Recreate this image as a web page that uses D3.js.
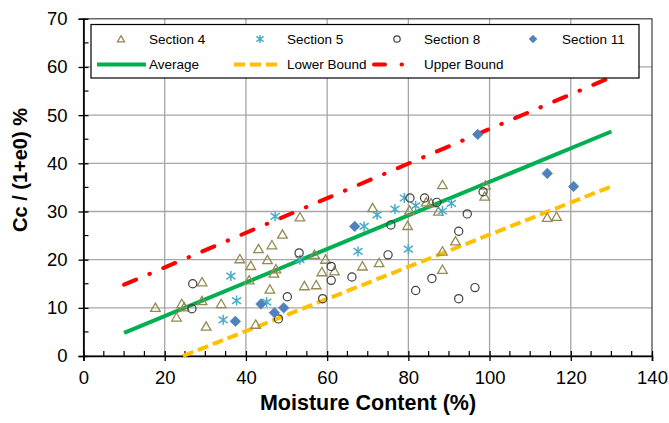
<!DOCTYPE html>
<html><head><meta charset="utf-8">
<script src="https://cdn.jsdelivr.net/npm/d3@7"></script>
<style>body{margin:0;background:#fff}svg{display:block;font-family:"Liberation Sans",Arial,sans-serif}</style>
</head><body><svg id="c" width="669" height="423"></svg>
<script>
const xTicks=[0,20,40,60,80,100,120,140];
const yTicks=[0,10,20,30,40,50,60,70];
const section4=[[17.7,10.0],[22.9,8.0],[24.2,10.8],[24.8,10.1],[29.2,15.3],[29.2,11.4],[30.2,6.1],[33.9,10.8],[38.5,20.1],[40.8,15.7],[41.2,18.7],[42.4,6.5],[43.1,22.2],[45.3,19.9],[45.9,13.8],[46.4,23.0],[46.9,17.1],[47.4,18.0],[49.0,25.2],[53.3,28.8],[54.4,14.5],[56.9,21.0],[57.3,14.7],[58.7,17.4],[59.6,20.0],[61.8,17.6],[68.7,18.6],[71.2,30.7],[72.8,19.3],[79.8,27.0],[80.3,30.2],[84.4,31.9],[85.6,31.7],[87.4,30.0],[88.4,35.5],[88.4,21.7],[88.4,17.9],[91.6,23.8],[98.8,33.1],[99.0,35.4],[114.2,28.7],[116.5,28.9]];
const section5=[[34.4,7.5],[36.3,16.6],[37.7,11.5],[45.1,11.2],[47.2,29.0],[53.3,20.0],[67.6,21.7],[69.1,26.9],[72.3,29.3],[76.7,30.5],[79.0,32.8],[80.0,22.2],[81.8,31.2],[88.4,30.1],[90.6,31.7]];
const section8=[[26.7,9.8],[26.9,15.0],[48.0,7.7],[50.2,12.3],[53.1,21.4],[58.9,11.9],[61.0,18.6],[61.0,15.7],[66.1,16.4],[75.0,21.0],[75.7,27.2],[80.4,32.8],[81.8,13.6],[84.0,32.8],[85.8,16.1],[87.0,31.9],[92.4,25.9],[92.4,11.9],[94.5,29.5],[96.4,14.2],[98.4,34.1]];
const section11=[[37.4,7.2],[43.7,10.8],[47.0,9.0],[49.3,10.0],[66.8,26.9],[97.1,46.0],[114.2,37.9],[120.7,35.2]];
const averageLine=[[10,4.8],[130,46.6]];
const lowerLine=[[24.5,0],[130,35.2]];
const upperLine=[[10,14.8],[130,57.9]];
const legendLabels=["Section 4","Section 5","Section 8","Section 11","Average","Lower Bound","Upper Bound"];

const svg=d3.select("#c");
const L=83.5,R=652,T=18.8,B=356;
const x=d3.scaleLinear().domain([0,140]).range([L,R]);
const y=d3.scaleLinear().domain([0,70]).range([B,T]);
const C={tri:"#948A54",ast:"#4BACC6",cir:"#404040",dia:"#4F81BD",avg:"#00B050",low:"#FFC000",up:"#FF0000"};

// grid
const g=svg.append("g");
g.selectAll(".gx").data(xTicks.slice(1,-1)).join("line")
 .attr("x1",d=>x(d)).attr("x2",d=>x(d)).attr("y1",T).attr("y2",B)
 .attr("stroke","#a6a6a6").attr("stroke-width",1.3);
g.selectAll(".gy").data(yTicks.slice(1,-1)).join("line")
 .attr("x1",L).attr("x2",R).attr("y1",d=>y(d)).attr("y2",d=>y(d))
 .attr("stroke","#a6a6a6").attr("stroke-width",1.3);
// frame
svg.append("rect").attr("x",L).attr("y",T).attr("width",R-L).attr("height",B-T)
 .attr("fill","none").attr("stroke","#404040").attr("stroke-width",1.2);

// axes
const minorX=d3.range(5,140,5).filter(v=>v%20!==0);
const minorY=d3.range(5,70,5).filter(v=>v%10!==0);
const xAx=d3.axisBottom(x).tickValues(xTicks).tickSize(5).tickPadding(10).tickFormat(d3.format("d"));
const xg=svg.append("g").attr("transform",`translate(0,${B})`).call(xAx);
xg.select(".domain").attr("stroke","#000").attr("stroke-width",1.6);
xg.selectAll(".tick line").attr("stroke","#000").attr("stroke-width",1.3).attr("y1",-5);
xg.selectAll(".tick text").attr("font-size",18.5).attr("fill","#000").attr("font-family","Liberation Sans, Arial");
svg.append("g").selectAll("line").data(minorX).join("line")
 .attr("x1",d=>x(d)).attr("x2",d=>x(d)).attr("y1",B).attr("y2",B-5).attr("stroke","#000").attr("stroke-width",1.2);
const yAx=d3.axisLeft(y).tickValues(yTicks).tickSize(5).tickPadding(11).tickFormat(d3.format("d"));
const yg=svg.append("g").attr("transform",`translate(${L},0)`).call(yAx);
yg.select(".domain").attr("stroke","#000").attr("stroke-width",1.6);
yg.selectAll(".tick line").attr("stroke","#000").attr("stroke-width",1.3).attr("x1",5);
yg.selectAll(".tick text").attr("font-size",18.5).attr("fill","#000").attr("font-family","Liberation Sans, Arial");
svg.append("g").selectAll("line").data(minorY).join("line")
 .attr("x1",L).attr("x2",L+5).attr("y1",d=>y(d)).attr("y2",d=>y(d)).attr("stroke","#000").attr("stroke-width",1.2);

// titles
svg.append("text").attr("x",368).attr("y",410).attr("text-anchor","middle")
 .attr("font-size",21.5).attr("font-weight","bold").text("Moisture Content (%)");
svg.append("text").attr("transform","translate(27,170) rotate(-90)").attr("text-anchor","middle")
 .attr("font-size",20).attr("font-weight","bold").text("Cc / (1+e0) %");

// lines
const ln=d3.line().x(d=>x(d[0])).y(d=>y(d[1]));
const plot=svg.append("g");
plot.append("path").attr("d",ln(averageLine)).attr("stroke",C.avg).attr("stroke-width",4).attr("fill","none");
plot.append("path").attr("d",ln(lowerLine)).attr("stroke",C.low).attr("stroke-width",4).attr("fill","none").attr("stroke-dasharray","11,5");
plot.append("path").attr("d",ln(upperLine)).attr("stroke",C.up).attr("stroke-width",4).attr("fill","none")
 .attr("stroke-linecap","round").attr("stroke-dasharray","13,14.5,0.5,14.5");

// markers
const tri=d3.symbol().type(d3.symbolTriangle);
function drawTri(sel,data,size){sel.selectAll(null).data(data).join("path")
 .attr("d",tri.size(size)()).attr("transform",d=>`translate(${x(d[0])},${y(d[1])+0.8})`)
 .attr("fill","none").attr("stroke",C.tri).attr("stroke-width",1.3);}
function astPath(r){const a=r*0.9,b=r*0.65;return `M0,${-r}V${r}M${-a},${-b}L${a},${b}M${-a},${b}L${a},${-b}`;}
function drawAst(sel,data,r){sel.selectAll(null).data(data).join("path")
 .attr("d",astPath(r)).attr("transform",d=>`translate(${x(d[0])},${y(d[1])})`)
 .attr("fill","none").attr("stroke",C.ast).attr("stroke-width",1.5);}
function drawCir(sel,data,r){sel.selectAll(null).data(data).join("circle")
 .attr("cx",d=>x(d[0])).attr("cy",d=>y(d[1])).attr("r",r)
 .attr("fill","none").attr("stroke",C.cir).attr("stroke-width",1.2);}
function drawDia(sel,data,r){sel.selectAll(null).data(data).join("path")
 .attr("d",`M0,${-r}L${r},0L0,${r}L${-r},0Z`).attr("transform",d=>`translate(${x(d[0])},${y(d[1])})`)
 .attr("fill",C.dia).attr("stroke",C.dia).attr("stroke-width",0.8);}
drawTri(plot.append("g"),section4,40);
drawAst(plot.append("g"),section5,5);
drawCir(plot.append("g"),section8,4.1);
drawDia(plot.append("g"),section11,5.2);

// legend
const lg=svg.append("g");
lg.append("rect").attr("x",91).attr("y",24.5).attr("width",548).attr("height",53.5)
 .attr("fill","#fff").attr("stroke","#000").attr("stroke-width",1.2);
const r1=39,r2=64.5;
const mk=[121,260,397,533], tx=[149,287,424,562];
drawTri(lg.append("g").attr("transform",`translate(${mk[0]-x(0)},${r1-y(0)})`),[[0,0]],22);
drawAst(lg.append("g").attr("transform",`translate(${mk[1]-x(0)},${r1-y(0)})`),[[0,0]],4);
drawCir(lg.append("g").attr("transform",`translate(${mk[2]-x(0)},${r1-y(0)})`),[[0,0]],3.2);
drawDia(lg.append("g").attr("transform",`translate(${mk[3]-x(0)},${r1-y(0)})`),[[0,0]],3.8);
lg.append("line").attr("x1",97).attr("x2",146).attr("y1",r2).attr("y2",r2).attr("stroke",C.avg).attr("stroke-width",4);
lg.append("line").attr("x1",234).attr("x2",279).attr("y1",r2).attr("y2",r2).attr("stroke",C.low).attr("stroke-width",4).attr("stroke-dasharray","11,5");
lg.append("line").attr("x1",374).attr("x2",406).attr("y1",r2).attr("y2",r2).attr("stroke",C.up).attr("stroke-width",4)
 .attr("stroke-linecap","round").attr("stroke-dasharray","11,16.5,0.5,30");
const lpos=[[tx[0],r1],[tx[1],r1],[tx[2],r1],[tx[3],r1],[149,r2],[287,r2],[424,r2]];
lg.selectAll(".lt").data(legendLabels).join("text").attr("x",(d,i)=>lpos[i][0]).attr("y",(d,i)=>lpos[i][1])
 .attr("dy","0.35em").attr("font-size",13.5).attr("fill","#000").text(d=>d);
</script></body></html>
